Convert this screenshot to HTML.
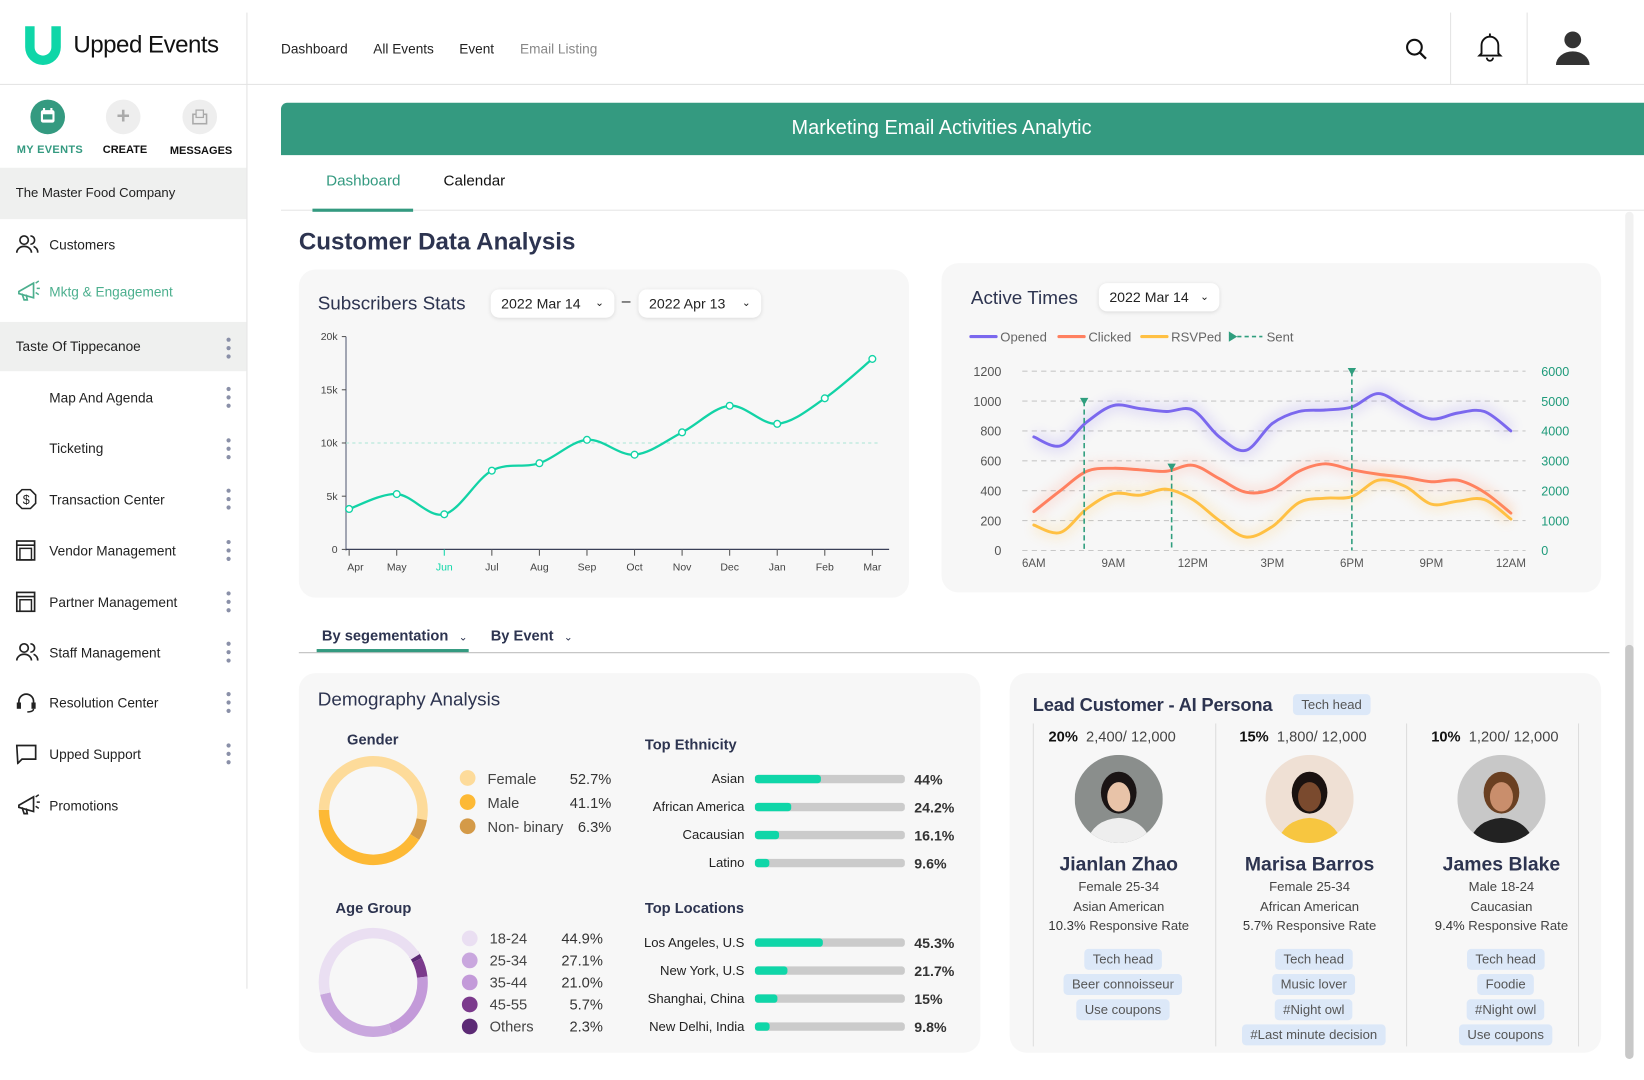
<!DOCTYPE html>
<html><head><meta charset="utf-8">
<style>
*{box-sizing:border-box;margin:0;padding:0}
body{width:1644px;height:1080px;background:#fff;font-family:"Liberation Sans",sans-serif;color:#2d3450;position:relative;overflow:hidden}
#root{position:absolute;left:0;top:0;width:1568px;height:1030px;transform:scale(1.0485);transform-origin:0 0}
.a{position:absolute;white-space:nowrap}
.nav{font-size:13px;color:#222;top:39px}
.mi{font-size:13px;color:#222;left:47px}
.kb{position:absolute;left:216px;width:4px}
.kb i{display:block;width:4px;height:4px;border-radius:2px;background:#8a90a8;margin-bottom:4px}
.card{position:absolute;background:#f7f7f7;border-radius:16px}
.tag{position:absolute;background:#dce8f8;border-radius:4px;font-size:12.5px;color:#555;text-align:center;line-height:20px;height:20px;transform:translateX(-50%);padding:0 8px;white-space:nowrap}
.t12{font-size:12.5px;color:#444}
</style></head><body>
<div id="root">
<!-- header -->
<div class="a" style="left:0;top:0;width:1568px;height:81px;border-bottom:1px solid #e3e3e3"></div>
<div class="a" style="left:235px;top:12px;width:1px;height:931px;background:#e3e3e3"></div>
<svg class="a" style="left:20px;top:22px" width="42" height="42" viewBox="0 0 42 42"><path d="M4 3h9v20a8 8 0 0 0 16 0V3h9v20a17 17 0 0 1-34 0z" fill="#0fd6a8"/></svg>
<div class="a" style="left:70px;top:29px;font-size:23px;color:#111;letter-spacing:-0.5px">Upped Events</div>
<div class="a nav" style="left:268px">Dashboard</div>
<div class="a nav" style="left:356px">All Events</div>
<div class="a nav" style="left:438px">Event</div>
<div class="a nav" style="left:496px;color:#888">Email Listing</div>
<svg class="a" style="left:1340px;top:36px" width="22" height="22"><circle cx="9" cy="9" r="7" fill="none" stroke="#111" stroke-width="2"/><line x1="14" y1="14" x2="20" y2="20" stroke="#111" stroke-width="2.2"/></svg>
<div class="a" style="left:1383px;top:12px;width:1px;height:68px;background:#e3e3e3"></div>
<svg class="a" style="left:1408px;top:31px" width="26" height="28"><path d="M5 20V12a8 8 0 0 1 16 0v8l2 2H3z" fill="none" stroke="#111" stroke-width="1.8"/><path d="M10 24a3 3 0 0 0 6 0" fill="none" stroke="#111" stroke-width="1.8"/><line x1="13" y1="1" x2="13" y2="4" stroke="#111" stroke-width="1.8"/></svg>
<div class="a" style="left:1456px;top:12px;width:1px;height:68px;background:#e3e3e3"></div>
<svg class="a" style="left:1483px;top:28px" width="34" height="34"><circle cx="17" cy="10" r="8" fill="#333"/><path d="M1 34a16 13 0 0 1 32 0z" fill="#333"/></svg>

<!-- sidebar -->
<div class="a" style="left:29px;top:95px;width:33px;height:33px;border-radius:50%;background:#349a80"></div>
<svg class="a" style="left:37px;top:102px" width="17" height="17"><rect x="2" y="3" width="13" height="12" rx="2" fill="#fff"/><rect x="4" y="7" width="9" height="5" fill="#349a80"/><rect x="4" y="1" width="2" height="4" fill="#fff"/><rect x="11" y="1" width="2" height="4" fill="#fff"/></svg>
<div class="a" style="left:101px;top:95px;width:33px;height:33px;border-radius:50%;background:#eee;color:#aaa;font-size:22px;font-weight:bold;text-align:center;line-height:32px">+</div>
<div class="a" style="left:174px;top:95px;width:33px;height:33px;border-radius:50%;background:#eee"></div>
<svg class="a" style="left:182px;top:103px" width="17" height="17"><rect x="2" y="6" width="13" height="9" fill="none" stroke="#aaa" stroke-width="1.5"/><rect x="5" y="2" width="7" height="7" fill="#eee" stroke="#aaa" stroke-width="1.2"/></svg>
<div class="a" style="left:16px;top:137px;font-size:10.5px;font-weight:bold;color:#349a80;letter-spacing:0.3px">MY EVENTS</div>
<div class="a" style="left:98px;top:137px;font-size:10.5px;font-weight:bold;color:#111">CREATE</div>
<div class="a" style="left:162px;top:138px;font-size:10.5px;font-weight:bold;color:#111">MESSAGES</div>
<div class="a" style="left:0;top:160px;width:235px;height:49px;background:#eff0ef"></div>
<div class="a" style="left:15px;top:177px;font-size:12.5px;color:#222">The Master Food Company</div>
<svg class="a" style="left:15px;top:223px" width="22" height="20"><circle cx="8" cy="6" r="4" fill="none" stroke="#222" stroke-width="1.6"/><path d="M1 18a7 6 0 0 1 14 0" fill="none" stroke="#222" stroke-width="1.6"/><path d="M14 2a4 4 0 0 1 0 8M17 12a6 6 0 0 1 4 6" fill="none" stroke="#222" stroke-width="1.6"/></svg>
<div class="a mi" style="top:226px">Customers</div>
<svg class="a" style="left:15px;top:266px" width="24" height="22"><path d="M3 12l14-8v14L3 14z" fill="none" stroke="#4caf8e" stroke-width="1.6"/><path d="M6 14l2 6h3l-1-5" fill="none" stroke="#4caf8e" stroke-width="1.6"/><path d="M19 4l3-2M20 9h3M19 13l3 2" stroke="#4caf8e" stroke-width="1.4"/></svg>
<div class="a mi" style="top:271px;color:#4caf8e">Mktg &amp; Engagement</div>
<div class="a" style="left:0;top:307px;width:235px;height:47px;background:#eff0ef"></div>
<div class="a" style="left:15px;top:323px;font-size:13px;color:#222">Taste Of Tippecanoe</div>
<div class="kb" style="top:322px"><i></i><i></i><i></i></div>
<div class="a mi" style="top:372px">Map And Agenda</div>
<div class="kb" style="top:369px"><i></i><i></i><i></i></div>
<div class="a mi" style="top:420px">Ticketing</div>
<div class="kb" style="top:418px"><i></i><i></i><i></i></div>
<svg class="a" style="left:15px;top:466px" width="20" height="20"><polygon points="6,1 14,1 19,6 19,14 14,19 6,19 1,14 1,6" fill="none" stroke="#222" stroke-width="1.5"/><text x="10" y="14.5" font-size="12" text-anchor="middle" fill="#222">$</text></svg>
<div class="a mi" style="top:469px">Transaction Center</div>
<div class="kb" style="top:466px"><i></i><i></i><i></i></div>
<svg class="a" style="left:15px;top:515px" width="20" height="20"><rect x="1" y="1" width="17" height="18" fill="none" stroke="#222" stroke-width="1.6"/><line x1="1" y1="5" x2="18" y2="5" stroke="#222" stroke-width="1.6"/><rect x="4" y="8" width="11" height="11" fill="none" stroke="#222" stroke-width="1.4"/></svg>
<div class="a mi" style="top:518px">Vendor Management</div>
<div class="kb" style="top:515px"><i></i><i></i><i></i></div>
<svg class="a" style="left:15px;top:564px" width="20" height="20"><rect x="1" y="1" width="17" height="18" fill="none" stroke="#222" stroke-width="1.6"/><line x1="1" y1="5" x2="18" y2="5" stroke="#222" stroke-width="1.6"/><rect x="4" y="8" width="11" height="11" fill="none" stroke="#222" stroke-width="1.4"/></svg>
<div class="a mi" style="top:567px">Partner Management</div>
<div class="kb" style="top:564px"><i></i><i></i><i></i></div>
<svg class="a" style="left:15px;top:612px" width="22" height="20"><circle cx="8" cy="6" r="4" fill="none" stroke="#222" stroke-width="1.6"/><path d="M1 18a7 6 0 0 1 14 0" fill="none" stroke="#222" stroke-width="1.6"/><path d="M14 2a4 4 0 0 1 0 8M17 12a6 6 0 0 1 4 6" fill="none" stroke="#222" stroke-width="1.6"/></svg>
<div class="a mi" style="top:615px">Staff Management</div>
<div class="kb" style="top:612px"><i></i><i></i><i></i></div>
<svg class="a" style="left:15px;top:660px" width="20" height="20"><path d="M3 12V9a7 7 0 0 1 14 0v3" fill="none" stroke="#222" stroke-width="1.6"/><rect x="1" y="10" width="4" height="6" fill="#222"/><rect x="15" y="10" width="4" height="6" fill="#222"/><path d="M17 16q0 3-6 3" fill="none" stroke="#222" stroke-width="1.4"/></svg>
<div class="a mi" style="top:663px">Resolution Center</div>
<div class="kb" style="top:660px"><i></i><i></i><i></i></div>
<svg class="a" style="left:15px;top:709px" width="20" height="20"><path d="M1 2h18v13H6l-4 4z" fill="none" stroke="#222" stroke-width="1.6"/></svg>
<div class="a mi" style="top:712px">Upped Support</div>
<div class="kb" style="top:709px"><i></i><i></i><i></i></div>
<svg class="a" style="left:15px;top:756px" width="24" height="22"><path d="M3 12l14-8v14L3 14z" fill="none" stroke="#222" stroke-width="1.6"/><path d="M6 14l2 6h3l-1-5" fill="none" stroke="#222" stroke-width="1.6"/><path d="M19 4l3-2M20 9h3M19 13l3 2" stroke="#222" stroke-width="1.4"/></svg>
<div class="a mi" style="top:761px">Promotions</div>

<!-- main -->
<div class="a" style="left:268px;top:98px;width:1300px;height:50px;background:#349a80;border-radius:6px 0 0 0;color:#fff;font-size:19px;text-align:center;line-height:50px;padding-right:40px">Marketing Email Activities Analytic</div>
<div class="a" style="left:311px;top:165px;font-size:14.5px;color:#349a80">Dashboard</div>
<div class="a" style="left:423px;top:165px;font-size:14.5px;color:#111">Calendar</div>
<div class="a" style="left:268px;top:200px;width:1300px;height:1px;background:#e5e5e5"></div>
<div class="a" style="left:298px;top:199px;width:96px;height:3px;background:#349a80"></div>
<div class="a" style="left:1550px;top:202px;width:8px;height:808px;background:#f1f1f1;border-radius:4px"></div>
<div class="a" style="left:1550px;top:615px;width:8px;height:395px;background:#c8c8c8;border-radius:4px"></div>
<div class="a" style="left:285px;top:217px;font-size:23px;font-weight:bold;color:#2d3450">Customer Data Analysis</div>

<div class="card" style="left:285px;top:257px;width:582px;height:313px"></div>
<div class="a" style="left:303px;top:279px;font-size:18px;color:#2d3450">Subscribers Stats</div>
<div class="a" style="left:468px;top:276px;width:118px;height:27px;background:#fff;border-radius:8px;box-shadow:0 1px 4px rgba(0,0,0,.12);font-size:13.5px;color:#222;line-height:27px;padding-left:10px">2022 Mar 14 <span style="position:absolute;right:10px;font-size:10px">&#8964;</span></div>
<div class="a" style="left:593px;top:279px;font-size:15px;color:#222">–</div>
<div class="a" style="left:609px;top:276px;width:117px;height:27px;background:#fff;border-radius:8px;box-shadow:0 1px 4px rgba(0,0,0,.12);font-size:13.5px;color:#222;line-height:27px;padding-left:10px">2022 Apr 13 <span style="position:absolute;right:10px;font-size:10px">&#8964;</span></div>
<svg class="a" id="subChart" style="left:0;top:0" width="1568" height="1030"></svg>

<div class="card" style="left:898px;top:251px;width:629px;height:314px"></div>
<div class="a" style="left:926px;top:274px;font-size:18px;color:#2d3450">Active Times</div>
<div class="a" style="left:1048px;top:270px;width:115px;height:27px;background:#fff;border-radius:8px;box-shadow:0 1px 4px rgba(0,0,0,.12);font-size:13.5px;color:#222;line-height:27px;padding-left:10px">2022 Mar 14 <span style="position:absolute;right:10px;font-size:10px">&#8964;</span></div>
<svg class="a" id="actChart" style="left:0;top:0" width="1568" height="1030"></svg>

<div class="a" style="left:307px;top:598px;font-size:14px;font-weight:bold;color:#2d3450">By segementation <span style="font-size:10px;font-weight:normal;margin-left:6px">&#8964;</span></div>
<div class="a" style="left:468px;top:598px;font-size:14px;font-weight:bold;color:#2d3450">By Event <span style="font-size:10px;font-weight:normal;margin-left:6px">&#8964;</span></div>
<div class="a" style="left:285px;top:622px;width:1250px;height:1px;background:#bbb"></div>
<div class="a" style="left:302px;top:619px;width:145px;height:3px;background:#349a80"></div>

<div class="card" style="left:285px;top:642px;width:650px;height:362px"></div>
<div class="a" style="left:303px;top:657px;font-size:18px;color:#2d3450">Demography Analysis</div>
<div class="a" style="left:331px;top:697px;font-size:14px;font-weight:bold">Gender</div>
<div class="a" style="left:320px;top:858px;font-size:14px;font-weight:bold">Age Group</div>
<div class="a" style="left:615px;top:702px;font-size:14px;font-weight:bold">Top Ethnicity</div>
<div class="a" style="left:615px;top:858px;font-size:14px;font-weight:bold">Top Locations</div>
<svg class="a" id="demoChart" style="left:0;top:0" width="1568" height="1030"></svg>

<div class="card" style="left:963px;top:642px;width:564px;height:362px"></div>
<div class="a" style="left:985px;top:662px;font-size:17.5px;font-weight:bold;color:#2d3450;letter-spacing:-0.2px">Lead Customer - AI Persona</div>
<div class="tag" style="left:1270px;top:662px">Tech head</div>
<div class="a" style="left:985px;top:690px;width:1px;height:308px;background:#ddd"></div>
<div class="a" style="left:1159px;top:690px;width:1px;height:308px;background:#ddd"></div>
<div class="a" style="left:1341px;top:690px;width:1px;height:308px;background:#ddd"></div>
<div class="a" style="left:1505px;top:690px;width:1px;height:308px;background:#ddd"></div>
<div id="personas"></div>
</div>

<script>
const NS="http://www.w3.org/2000/svg";
function mk(parent,tag,attrs,txt){const e=document.createElementNS(NS,tag);for(const k in attrs)e.setAttribute(k,attrs[k]);if(txt!==undefined)e.textContent=txt;parent.appendChild(e);return e;}
function smooth(pts){let d="M"+pts[0][0]+","+pts[0][1];for(let i=0;i<pts.length-1;i++){const p0=pts[i-1]||pts[i],p1=pts[i],p2=pts[i+1],p3=pts[i+2]||p2;const c1=[p1[0]+(p2[0]-p0[0])/6,p1[1]+(p2[1]-p0[1])/6],c2=[p2[0]-(p3[0]-p1[0])/6,p2[1]-(p3[1]-p1[1])/6];d+=" C"+c1+" "+c2+" "+p2;}return d;}

/* ---------- Subscribers Stats ---------- */
const subMonths=["Apr","May","Jun","Jul","Aug","Sep","Oct","Nov","Dec","Jan","Feb","Mar"];
const subValues=[3.8,5.2,3.3,7.4,8.1,10.3,8.9,11.0,13.5,11.8,14.2,17.9];
const subTicks=[0,5,10,15,20];
const subTickLabels=["0","5k","10k","15k","20k"];
(function(){
 const g=document.getElementById("subChart");
 const x=i=>333+i*(832-333)/(subMonths.length-1);
 const y=v=>524-v*(203/20);
 const ax=mk(g,"line",{x1:330,y1:321,x2:330,y2:525,stroke:"#8a8fa0","stroke-width":1.5});
 
 
 const bx=mk(g,"line",{x1:330,y1:524,x2:848,y2:524,stroke:"#3a4058","stroke-width":1.2});
 
 
 subTicks.forEach((t,i)=>{
  mk(g,"line",{x1:326,y1:y(t),x2:330,y2:y(t),stroke:"#555"});
  const tl=mk(g,"text",{x:322,y:y(t)+3.5,"font-size":10,"text-anchor":"end",fill:"#444"},subTickLabels[i]);
  
  
 });
 const ref=mk(g,"line",{x1:330,y1:y(10),x2:840,y2:y(10),stroke:"#a8e6d6","stroke-dasharray":"3,3"});
 
 
 subMonths.forEach((m,i)=>{
  const c=i===2?"#0fd6a8":"#444";
  mk(g,"line",{x1:x(i),y1:524,x2:x(i),y2:530,stroke:i===2?"#0fd6a8":"#555"});
  const l=mk(g,"text",{x:x(i)+(i===0?6:0),y:544,"font-size":10,"text-anchor":"middle",fill:c},m);
  
  
 });
 const pts=subValues.map((v,i)=>[x(i),y(v)]);
 const ln=mk(g,"path",{d:smooth(pts),fill:"none",stroke:"#12d3a6","stroke-width":2.2});
 
 
 pts.forEach(p=>{const c=mk(g,"circle",{cx:p[0],cy:p[1],r:3.2,fill:"#fff",stroke:"#12d3a6","stroke-width":1.3});
  
  });
})();

/* ---------- Active Times ---------- */
const actHours=[6,7,8,9,10,11,12,13,14,15,16,17,18,19,20,21,22,23,24];
const openedVals=[760,700,860,970,950,930,940,760,670,850,930,940,960,1050,960,880,920,930,800];
const clickedVals=[260,400,530,550,540,530,570,480,390,410,530,580,540,510,490,460,470,390,250];
const rsvpVals=[170,120,280,380,370,410,340,200,90,160,320,350,360,470,430,310,330,340,210];
const sentHours=[7.9,11.2,18];
const sentVals=[5000,2800,6000];
const actLeftTicks=[0,200,400,600,800,1000,1200];
const actRightTicks=[0,1000,2000,3000,4000,5000,6000];
const actXLabels=["6AM","9AM","12PM","3PM","6PM","9PM","12AM"];
const actXLabelHours=[6,9,12,15,18,21,24];
(function(){
 const g=document.getElementById("actChart");
 const x=h=>986+(h-6)*(1441-986)/18;
 const y=v=>525-v*171/1200;
 const y2=v=>525-v*171/6000;
 const defs=mk(g,"defs",{});
 const f=mk(defs,"filter",{id:"blur",x:"-10%",y:"-50%",width:"120%",height:"200%"});
 mk(f,"feGaussianBlur",{stdDeviation:5});
 actLeftTicks.forEach(t=>{
  const gl=mk(g,"line",{x1:975,y1:y(t),x2:1455,y2:y(t),stroke:"#c8c8c8","stroke-dasharray":"5,4"});
  
  
  const tl=mk(g,"text",{x:955,y:y(t)+4.5,"font-size":12,"text-anchor":"end",fill:"#555"},t);
  
  
 });
 actRightTicks.forEach(t=>{
  const tl=mk(g,"text",{x:1470,y:y2(t)+4.5,"font-size":12,fill:"#1e9a7a"},t);
  
  
 });
 actXLabels.forEach((l,i)=>{
  const tl=mk(g,"text",{x:x(actXLabelHours[i]),y:541,"font-size":11,"text-anchor":"middle",fill:"#555"},l);
  
  
 });
 const series=[[openedVals,"#7b68ee","opened-line"],[clickedVals,"#ff8060","clicked-line"],[rsvpVals,"#ffc043","rsvped-line"]];
 series.forEach(s=>{
  const pts=s[0].map((v,i)=>[x(actHours[i]),y(v)]);
  const d=smooth(pts);
  mk(g,"path",{d:d,fill:"none",stroke:s[1],"stroke-width":14,opacity:0.15,filter:"url(#blur)"});
  const p=mk(g,"path",{d:d,fill:"none",stroke:s[1],"stroke-width":2.8,"stroke-linecap":"round"});
  
  
 });
 sentHours.forEach((h,i)=>{
  const sx=x(h),sy=y2(sentVals[i]);
  const sl=mk(g,"line",{x1:sx,y1:sy,x2:sx,y2:525,stroke:"#2f9e7e","stroke-width":1.5,"stroke-dasharray":"5,3"});
  
  
  const tr=mk(g,"polygon",{points:`${sx-4},${sy-3} ${sx+4},${sy-3} ${sx},${sy+4}`,fill:"#2f9e7e"});
  
  
 });
 const leg=[["Opened","#7b68ee",926],["Clicked","#ff8060",1010],["RSVPed","#ffc043",1089]];
 leg.forEach(l=>{
  mk(g,"line",{x1:l[2],y1:321,x2:l[2]+24,y2:321,stroke:l[1],"stroke-width":3,"stroke-linecap":"round"});
  const t=mk(g,"text",{x:l[2]+28,y:325.5,"font-size":12.5,fill:"#666"},l[0]);
  
  
 });
 mk(g,"polygon",{points:"1172,316 1172,326 1180,321",fill:"#2f9e7e"});
 mk(g,"line",{x1:1180,y1:321,x2:1204,y2:321,stroke:"#2f9e7e","stroke-width":1.5,"stroke-dasharray":"4,3"});
 const st=mk(g,"text",{x:1208,y:325.5,"font-size":12.5,fill:"#666"},"Sent");
 
 
})();

/* ---------- Demography ---------- */
const genderLabels=["Female","Male","Non- binary"];
const genderValues=[52.7,41.1,6.3];
const genderColors=["#fddb9a","#fdb935","#d49a48"];
const ageLabels=["18-24","25-34","35-44","45-55","Others"];
const ageValues=[44.9,27.1,21.0,5.7,2.3];
const ageColors=["#eadff2","#c9a7de","#c39ad9","#7b3a8c","#5c2a75"];
const ethLabels=["Asian","African America","Cacausian","Latino"];
const ethValues=[44,24.2,16.1,9.6];
const locLabels=["Los Angeles, U.S","New York, U.S","Shanghai, China","New Delhi, India"];
const locValues=[45.3,21.7,15,9.8];
(function(){
 const g=document.getElementById("demoChart");
 function arc(cx,cy,r,a0,a1){const p=a=>[cx+r*Math.sin(a*Math.PI/180),cy-r*Math.cos(a*Math.PI/180)];const s=p(a0),e=p(a1);return `M${s} A${r},${r} 0 ${a1-a0>180?1:0} 1 ${e}`;}
 function donut(cx,cy,vals,cols,order,start,name){
  let a=start;
  order.forEach(i=>{const sw=vals[i]*3.6;const p=mk(g,"path",{d:arc(cx,cy,47,a,a+sw),fill:"none",stroke:cols[i],"stroke-width":10});
   
   
   a+=sw;});
 }
 donut(356,773,genderValues,genderColors,[2,1,0],100,"gender-slice");
 donut(356,937,ageValues,ageColors,[4,3,2,1,0],55,"age-slice");
 genderLabels.forEach((l,i)=>{
  const yy=743+i*23;
  mk(g,"circle",{cx:446,cy:yy-1,r:7.5,fill:genderColors[i]});
  const t=mk(g,"text",{x:465,y:yy+4.5,"font-size":14,fill:"#444"},l);
  
  
  const v=mk(g,"text",{x:583,y:yy+4.5,"font-size":14,"text-anchor":"end",fill:"#333"},genderValues[i].toFixed(1)+"%");
  
  
 });
 ageLabels.forEach((l,i)=>{
  const yy=895+i*21;
  mk(g,"circle",{cx:448,cy:yy,r:7.5,fill:ageColors[i]});
  const t=mk(g,"text",{x:467,y:yy+5,"font-size":14,fill:"#444"},l);
  
  
  const v=mk(g,"text",{x:575,y:yy+5,"font-size":14,"text-anchor":"end",fill:"#333"},ageValues[i].toFixed(1)+"%");
  
  
 });
 function bars(labels,vals,y0,step,name,fmt){
  labels.forEach((l,i)=>{
   const yy=y0+i*step;
   const t=mk(g,"text",{x:710,y:yy+4,"font-size":12.5,"text-anchor":"end",fill:"#222"},l);
   
   
   mk(g,"rect",{x:720,y:yy-4,width:143,height:8,rx:3,fill:"#cbcbcb"});
   const b=mk(g,"rect",{x:720,y:yy-4,width:143*vals[i]/100,height:8,rx:3,fill:"#0fd6a8"});
   
   
   const v=mk(g,"text",{x:872,y:yy+5,"font-size":13.5,"font-weight":"bold",fill:"#333"},fmt(vals[i]));
   
   
  });
 }
 bars(ethLabels,ethValues,743,26.7,"ethnicity",v=>(v%1?v.toFixed(1):v)+"%");
 bars(locLabels,locValues,899,26.7,"location",v=>(v%1?v.toFixed(1):v)+"%");
})();

/* ---------- Personas ---------- */
const personas=[
 {cx:1067,pct:"20%",cnt:"2,400/ 12,000",name:"Jianlan Zhao",d1:"Female  25-34",d2:"Asian American",rate:"10.3%",tags:["Tech head","Beer connoisseur","Use coupons"],bg:"#8a8e8c",skin:"#e8c3a8",hair:"#1a1414",shirt:"#eee"},
 {cx:1249,pct:"15%",cnt:"1,800/ 12,000",name:"Marisa Barros",d1:"Female  25-34",d2:"African American",rate:"5.7%",tags:["Tech head","Music lover","#Night owl","#Last minute decision"],bg:"#efe0d4",skin:"#7a4a2e",hair:"#1a1210",shirt:"#f7c640"},
 {cx:1432,pct:"10%",cnt:"1,200/ 12,000",name:"James Blake",d1:"Male  18-24",d2:"Caucasian",rate:"9.4%",tags:["Tech head","Foodie","#Night owl","Use coupons"],bg:"#c8c8c8",skin:"#c98e6c",hair:"#6a4022",shirt:"#222"}
];
(function(){
 const root=document.getElementById("personas");
 personas.forEach((p,k)=>{
  const wrap=document.createElement("div");
  
  
  const left=p.cx-67;
  wrap.innerHTML=
  `<div class="a" style="left:${left}px;top:694px;font-size:14px;color:#111"><b>${p.pct}</b>&nbsp;&nbsp;<span style="color:#444">${p.cnt}</span></div>
  <svg class="a" style="left:${p.cx-42}px;top:720px" width="84" height="84"><defs><clipPath id="cp${k}"><circle cx="42" cy="42" r="42"/></clipPath></defs><g clip-path="url(#cp${k})"><rect width="84" height="84" fill="${p.bg}"/><ellipse cx="42" cy="36" rx="17" ry="20" fill="${p.hair}"/><ellipse cx="42" cy="40" rx="11" ry="14" fill="${p.skin}"/><path d="M10 90 Q14 62 42 60 Q70 62 74 90z" fill="${p.shirt}"/></g></svg>
  <div class="a" style="left:${p.cx-80}px;width:160px;text-align:center;top:813px;font-size:18.5px;font-weight:bold;color:#2d3450">${p.name}</div>
  <div class="a t12" style="left:${p.cx-80}px;width:160px;text-align:center;top:839px">${p.d1}</div>
  <div class="a t12" style="left:${p.cx-80}px;width:160px;text-align:center;top:858px">${p.d2}</div>
  <div class="a t12" style="left:${p.cx-80}px;width:160px;text-align:center;top:876px"><span style="color:#333">${p.rate}</span> Responsive Rate</div>`+
  p.tags.map((t,i)=>`<div class="tag" style="left:${p.cx+4}px;top:${905+i*24}px">${t}</div>`).join("");
  root.appendChild(wrap);
 });
 document.querySelectorAll("#personas .tag").forEach(t=>{
  
  
 });
})();
</script>
</body></html>
